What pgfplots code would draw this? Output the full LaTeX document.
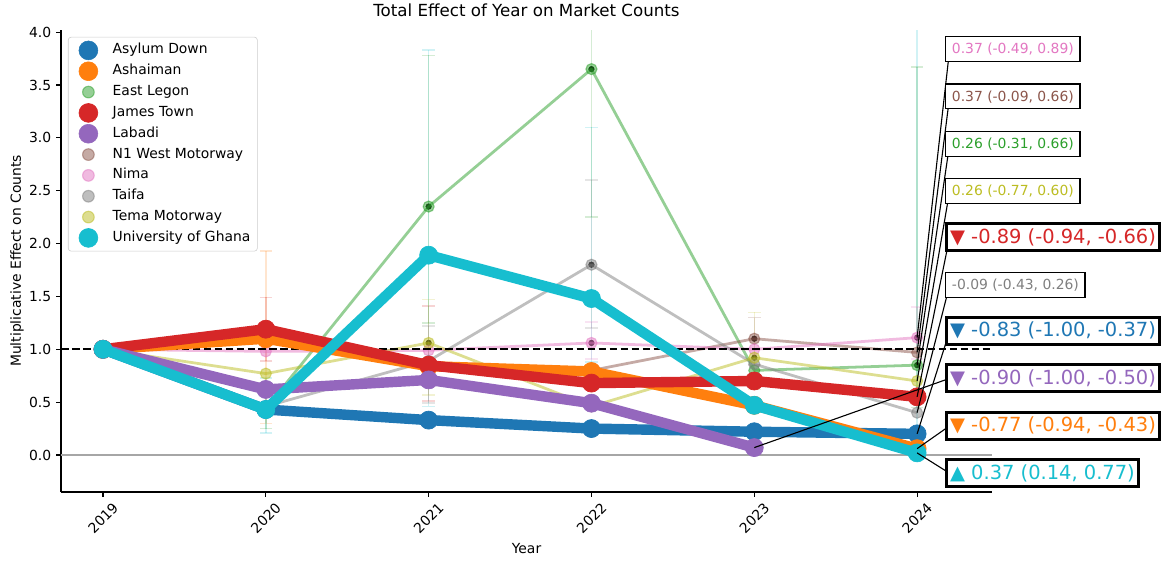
\documentclass[border=0pt]{standalone}
\usepackage{fontspec}
\setmainfont{DejaVu Sans}
\usepackage{pgfplots}
\pgfplotsset{compat=1.18}
\definecolor{c0}{HTML}{1F77B4}
\definecolor{c1}{HTML}{FF7F0E}
\definecolor{c2}{HTML}{2CA02C}
\definecolor{c3}{HTML}{D62728}
\definecolor{c4}{HTML}{9467BD}
\definecolor{c5}{HTML}{8C564B}
\definecolor{c6}{HTML}{E377C2}
\definecolor{c7}{HTML}{7F7F7F}
\definecolor{c8}{HTML}{BCBD22}
\definecolor{c9}{HTML}{17BECF}
\pgfplotsset{
  thinser/.style={forget plot, line width=2pt, opacity=0.5, mark=*, mark size=4pt, line join=round, mark options={solid, line width=0.8pt}},
  thickser/.style={forget plot, line width=7.5pt, mark=*, mark size=6.5pt, line join=round, mark options={solid, line width=0.5pt}},
  errser/.style={forget plot, only marks, mark=none, error bars/.cd, y dir=both, y explicit,
     error bar style={draw=#1, opacity=0.2, line width=1.1pt},
     error mark options={rotate=90, draw=#1, opacity=0.2, mark size=4.5pt, line width=1.1pt}},
  legimg/.style={legend image code/.code={\path[draw=none, fill=none] (0pt,-6pt) rectangle (27pt,6pt); \draw[##1] plot coordinates {(11.5pt,0pt)};}},
}
\tikzset{
  smallbox/.style={anchor=west, fill=white, draw=black, line width=0.9pt, inner xsep=4.5pt, inner ysep=3pt, text height=9.3pt, text depth=2.4pt, font=\fontsize{10}{12}\selectfont},
  bigbox/.style={anchor=west, fill=white, draw=black, line width=2.2pt, inner xsep=2.5pt, inner ysep=2.5pt, text height=11.5pt, text depth=3pt, font=\fontsize{14}{16}\selectfont},
}
\begin{document}
\begin{tikzpicture}
\useasboundingbox (-43.92pt,-53.28pt) rectangle (794.88pt,354.24pt);
\begin{axis}[
  at={(0,0)}, anchor=south west, scale only axis,
  width=670.32pt, height=332.64pt,
  xmin=2018.742, xmax=2024.46, ymin=-0.35, ymax=4.02,
  clip mode=individual,
  axis x line*=bottom, axis y line*=left,
  axis line style={line width=0.8pt, black},
  tick align=outside, major tick length=3.5pt,
  tick style={line width=0.8pt, black},
  xtick={2019,2020,2021,2022,2023,2024},
  xticklabels={\rotatebox{45}{2019},\rotatebox{45}{2020},\rotatebox{45}{2021},\rotatebox{45}{2022},\rotatebox{45}{2023},\rotatebox{45}{2024}},
  ytick={0,0.5,1,1.5,2,2.5,3,3.5,4},
  yticklabels={0.0,0.5,1.0,1.5,2.0,2.5,3.0,3.5,4.0},
  tick label style={font=\fontsize{10}{12}\selectfont},
  xlabel={Year}, ylabel={Multiplicative Effect on Counts},
  ylabel shift=-3pt,
  label style={font=\fontsize{10}{12}\selectfont},
  title={Total Effect of Year on Market Counts},
  title style={font=\fontsize{12}{14}\selectfont},
  legend cell align=left,
  legend style={at={(0.0075,0.985)}, anchor=north west, draw=black!20, fill=white,
    rounded corners=2pt, font=\fontsize{10}{12}\selectfont, row sep=0pt,
    nodes={text height=7.5pt, text depth=2.5pt, inner ysep=2.5pt}},
]
% legend entries (in legend order)
\addlegendimage{legimg, only marks, mark=*, mark size=6.8pt, color=c0}
\addlegendentry{Asylum Down}
\addlegendimage{legimg, only marks, mark=*, mark size=6.8pt, color=c1}
\addlegendentry{Ashaiman}
\addlegendimage{legimg, only marks, mark=*, mark size=4.2pt, color=c2, opacity=0.5, mark options={line width=0.8pt}}
\addlegendentry{East Legon}
\addlegendimage{legimg, only marks, mark=*, mark size=6.8pt, color=c3}
\addlegendentry{James Town}
\addlegendimage{legimg, only marks, mark=*, mark size=6.8pt, color=c4}
\addlegendentry{Labadi}
\addlegendimage{legimg, only marks, mark=*, mark size=4.2pt, color=c5, opacity=0.5, mark options={line width=0.8pt}}
\addlegendentry{N1 West Motorway}
\addlegendimage{legimg, only marks, mark=*, mark size=4.2pt, color=c6, opacity=0.5, mark options={line width=0.8pt}}
\addlegendentry{Nima}
\addlegendimage{legimg, only marks, mark=*, mark size=4.2pt, color=c7, opacity=0.5, mark options={line width=0.8pt}}
\addlegendentry{Taifa}
\addlegendimage{legimg, only marks, mark=*, mark size=4.2pt, color=c8, opacity=0.5, mark options={line width=0.8pt}}
\addlegendentry{Tema Motorway}
\addlegendimage{legimg, only marks, mark=*, mark size=6.8pt, color=c9}
\addlegendentry{University of Ghana}

% faint error bars
\addplot[errser=c1] coordinates {(2020,1.10) += (0,0.83) -= (0,0.80)};
\addplot[errser=c3] coordinates {(2020,1.19) += (0,0.30) -= (0,0.30) (2021,0.85) += (0,0.56) -= (0,0.34)};
\addplot[errser=c9] coordinates {(2020,0.43) += (0,0.30) -= (0,0.22) (2021,1.89) += (0,1.94) -= (0,1.43) (2022,1.48) += (0,1.62) -= (0,0.60) (2024,0.02) += (0,4.50) -= (0,0.02)};
\addplot[errser=c2] coordinates {(2020,0.44) += (0,0.20) -= (0,0.19) (2021,2.35) += (0,1.43) -= (0,1.10) (2022,3.65) += (0,2.00) -= (0,1.40) (2024,0.85) += (0,2.82) -= (0,0.40)};
\addplot[errser=c8] coordinates {(2021,1.06) += (0,0.41) -= (0,0.49) (2023,0.92) += (0,0.43) -= (0,0.30)};
\addplot[errser=c7] coordinates {(2021,0.89) += (0,0.33) -= (0,0.40) (2022,1.80) += (0,0.80) -= (0,0.60)};
\addplot[errser=c6] coordinates {(2022,1.06) += (0,0.20) -= (0,0.15) (2024,1.11) += (0,0.29) -= (0,0.20)};
\addplot[errser=c5] coordinates {(2023,1.10) += (0,0.20) -= (0,0.25)};

% thin (non-significant) series
\addplot[thinser, color=c2] coordinates {(2019,1.00) (2020,0.44) (2021,2.35) (2022,3.65) (2023,0.80) (2024,0.85)};
\addplot[thinser, color=c5] coordinates {(2019,1.00) (2020,1.08) (2021,0.85) (2022,0.80) (2023,1.10) (2024,0.97)};
\addplot[thinser, color=c6] coordinates {(2019,1.00) (2020,0.98) (2021,0.99) (2022,1.06) (2023,1.00) (2024,1.11)};
\addplot[thinser, color=c7] coordinates {(2019,1.00) (2020,0.46) (2021,0.89) (2022,1.80) (2023,0.86) (2024,0.40)};
\addplot[thinser, color=c8] coordinates {(2019,1.00) (2020,0.77) (2021,1.06) (2022,0.46) (2023,0.92) (2024,0.70)};

% reference lines
\addplot[forget plot, color=black!35, line width=1pt] coordinates {(2018.742,0) (2024.46,0)};
\addplot[forget plot, color=black, line width=1.6pt, dash pattern=on 5.5pt off 2.4pt] coordinates {(2018.742,1) (2024.46,1)};

% thick (significant) series
\addplot[thickser, color=c0] coordinates {(2019,1.00) (2020,0.43) (2021,0.33) (2022,0.25) (2023,0.22) (2024,0.20)};
\addplot[thickser, color=c1] coordinates {(2019,1.00) (2020,1.10) (2021,0.84) (2022,0.79) (2023,0.47) (2024,0.06)};
\addplot[thickser, color=c3] coordinates {(2019,1.00) (2020,1.19) (2021,0.85) (2022,0.68) (2023,0.70) (2024,0.55)};
\addplot[thickser, color=c4] coordinates {(2019,1.00) (2020,0.62) (2021,0.71) (2022,0.49) (2023,0.07)};
\addplot[thickser, color=c9] coordinates {(2019,1.00) (2020,0.43) (2021,1.89) (2022,1.48) (2023,0.47) (2024,0.02)};

% annotation connector lines
\draw[black, line width=0.8pt] (axis cs:2024,1.11) -- (axis cs:2024.2,3.839);
\draw[black, line width=0.8pt] (axis cs:2024,0.97) -- (axis cs:2024.2,3.392);
\draw[black, line width=0.8pt] (axis cs:2024,0.85) -- (axis cs:2024.2,2.943);
\draw[black, line width=0.8pt] (axis cs:2024,0.70) -- (axis cs:2024.2,2.498);
\draw[black, line width=0.8pt] (axis cs:2024,0.55) -- (axis cs:2024.2,2.061);
\draw[black, line width=0.8pt] (axis cs:2024,0.40) -- (axis cs:2024.2,1.609);
\draw[black, line width=0.8pt] (axis cs:2024,0.20) -- (axis cs:2024.2,1.173);
\draw[black, line width=0.8pt] (axis cs:2023,0.07) -- (axis cs:2024.2,0.725);
\draw[black, line width=0.8pt] (axis cs:2024,0.06) -- (axis cs:2024.2,0.276);
\draw[black, line width=0.8pt] (axis cs:2024,0.02) -- (axis cs:2024.2,-0.173);

% annotation boxes
\node[smallbox, text=c6] at (axis cs:2024.172,3.839) {0.37 (-0.49, 0.89)};
\node[smallbox, text=c5] at (axis cs:2024.172,3.392) {0.37 (-0.09, 0.66)};
\node[smallbox, text=c2] at (axis cs:2024.172,2.943) {0.26 (-0.31, 0.66)};
\node[smallbox, text=c8] at (axis cs:2024.172,2.498) {0.26 (-0.77, 0.60)};
\node[bigbox, text=c3] at (axis cs:2024.172,2.061) {▼ -0.89 (-0.94, -0.66)};
\node[smallbox, text=c7] at (axis cs:2024.172,1.609) {-0.09 (-0.43, 0.26)};
\node[bigbox, text=c0] at (axis cs:2024.172,1.173) {▼ -0.83 (-1.00, -0.37)};
\node[bigbox, text=c4] at (axis cs:2024.172,0.725) {▼ -0.90 (-1.00, -0.50)};
\node[bigbox, text=c1] at (axis cs:2024.172,0.276) {▼ -0.77 (-0.94, -0.43)};
\node[bigbox, text=c9] at (axis cs:2024.172,-0.173) {▲ 0.37 (0.14, 0.77)};
\end{axis}
\end{tikzpicture}
\end{document}
